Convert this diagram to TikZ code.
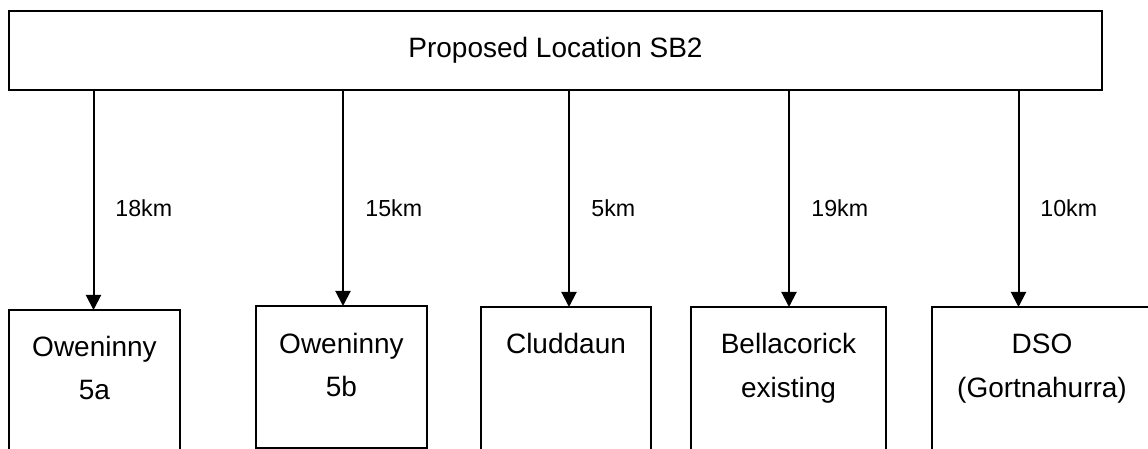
\documentclass[tikz,border=0pt]{standalone}
\usepackage{fontspec}
\setmainfont{Liberation Sans}
\usetikzlibrary{arrows.meta}
\tikzset{
 topbox/.style={draw, line width=1pt, outer sep=0pt, inner sep=0pt, anchor=north west,
   minimum width=546.5pt, minimum height=39.5pt, font=\fontsize{14}{16}\selectfont},
 sitebox/.style={draw, line width=0.8pt, outer sep=0pt, inner sep=0pt, anchor=north west},
 sitetext/.style={anchor=base, inner sep=0pt, font=\fontsize{14}{16}\selectfont},
 dist/.style={anchor=west, inner sep=0pt, font=\fontsize{11.6}{14}\selectfont},
 arr/.style={line width=1pt, -{Triangle[length=7.5pt,width=7.5pt]}}
}
\begin{document}
\begin{tikzpicture}[x=0.5pt,y=-0.5pt]
\useasboundingbox (0,0) rectangle (1148,449);
\fill[white] (0,0) rectangle (1148,449);
\clip (0,0) rectangle (1148,449);

\node[topbox] (top) at (9,11) {Proposed Location SB2};

\node[sitebox, minimum width=85.5pt, minimum height=90pt] (b1) at (9,310) {};
\node[sitebox, minimum width=85.5pt, minimum height=71pt] (b2) at (256,306) {};
\node[sitebox, minimum width=85pt, minimum height=90pt] (b3) at (481,307) {};
\node[sitebox, minimum width=97.5pt, minimum height=90pt] (b4) at (691,307) {};
\node[sitebox, minimum width=110pt, minimum height=90pt] (b5) at (932,307) {};

\node[sitetext] (t1a) at ([yshift=-23.5pt]b1.north) {Oweninny};
\node[sitetext] (t1b) at ([yshift=-45pt]b1.north) {5a};
\node[sitetext] (t2a) at ([yshift=-23.5pt]b2.north) {Oweninny};
\node[sitetext] (t2b) at ([yshift=-45pt]b2.north) {5b};
\node[sitetext] (t3a) at ([yshift=-23.5pt]b3.north) {Cluddaun};
\node[sitetext] (t4a) at ([yshift=-23.5pt]b4.north) {Bellacorick};
\node[sitetext] (t4b) at ([yshift=-45pt]b4.north) {existing};
\node[sitetext] (t5a) at ([yshift=-23.5pt]b5.north) {DSO};
\node[sitetext] (t5b) at ([yshift=-45pt]b5.north) {(Gortnahurra)};

\coordinate (a1) at (93.5,90);
\coordinate (a2) at (343,90);
\coordinate (a3) at (569,90);
\coordinate (a4) at (789,90);
\coordinate (a5) at (1018.5,90);

\draw[arr] (a1) -- (a1 |- b1.north);
\draw[arr] (a2) -- (a2 |- b2.north);
\draw[arr] (a3) -- (a3 |- b3.north);
\draw[arr] (a4) -- (a4 |- b4.north);
\draw[arr] (a5) -- (a5 |- b5.north);

\node[dist] (d1) at (115,208.5) {18km};
\node[dist] (d2) at (365,208.5) {15km};
\node[dist] (d3) at (591,208.5) {5km};
\node[dist] (d4) at (811,208.5) {19km};
\node[dist] (d5) at (1040,208.5) {10km};
\end{tikzpicture}
\end{document}
